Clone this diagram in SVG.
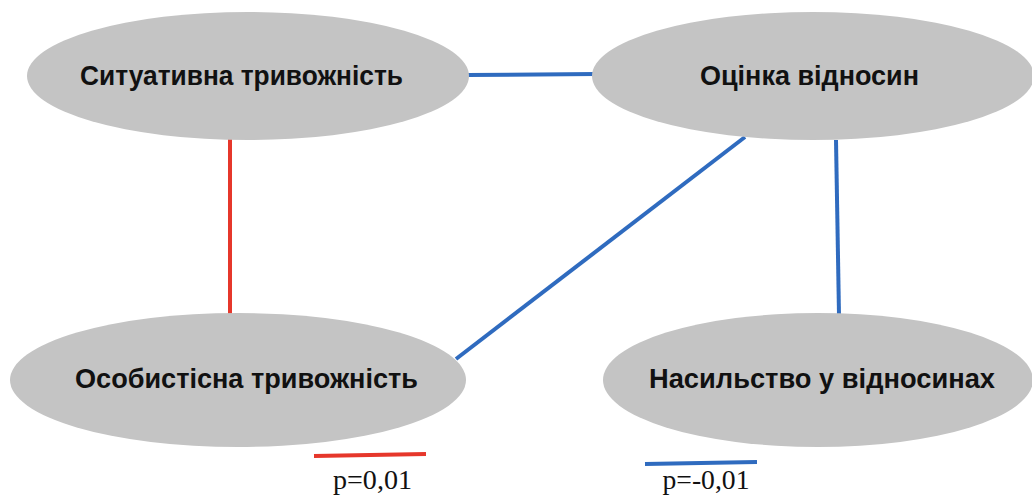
<svg xmlns="http://www.w3.org/2000/svg" width="1032" height="496" viewBox="0 0 1032 496">
  <style>
    .node ellipse { fill: #c4c4c4; }
    .node text { font-family: "Liberation Sans", Arial, sans-serif; font-weight: bold; font-size: 28px; fill: #111; text-anchor: middle; }
    .pos { stroke: #e6372b; stroke-width: 4; fill: none; }
    .neg { stroke: #2f6bbf; stroke-width: 4; fill: none; }
    .legend text { font-family: "Liberation Serif", "Times New Roman", serif; font-size: 28px; fill: #111; text-anchor: middle; }
  </style>
  <rect width="1032" height="496" fill="#ffffff"/>

  <g id="connectors">
    <line class="neg" x1="468" y1="75" x2="596" y2="74"/>
    <line class="pos" x1="230" y1="138" x2="230" y2="315"/>
    <line class="neg" x1="745" y1="137" x2="456" y2="359"/>
    <line class="neg" x1="836" y1="140" x2="839" y2="315"/>
  </g>

  <g id="node-situational" class="node">
    <ellipse cx="248" cy="76" rx="221" ry="64"/>
    <text x="241.5" y="85" textLength="323" lengthAdjust="spacingAndGlyphs">Ситуативна тривожність</text>
  </g>
  <g id="node-relations" class="node">
    <ellipse cx="813" cy="76" rx="221" ry="64"/>
    <text x="809.5" y="85" textLength="219" lengthAdjust="spacingAndGlyphs">Оцінка відносин</text>
  </g>
  <g id="node-personal" class="node">
    <ellipse cx="238" cy="380" rx="228" ry="67"/>
    <text x="246.5" y="388" textLength="343" lengthAdjust="spacingAndGlyphs">Особистісна тривожність</text>
  </g>
  <g id="node-violence" class="node">
    <ellipse cx="818" cy="380" rx="215" ry="67"/>
    <text x="822" y="388" textLength="346" lengthAdjust="spacingAndGlyphs">Насильство у відносинах</text>
  </g>

  <g class="legend">
    <line class="pos" x1="314" y1="456" x2="426" y2="454"/>
    <text x="372.5" y="489" textLength="79" lengthAdjust="spacingAndGlyphs">p=0,01</text>
    <line class="neg" x1="645" y1="464" x2="757" y2="462"/>
    <text x="706" y="489" textLength="87" lengthAdjust="spacingAndGlyphs">p=-0,01</text>
  </g>
</svg>
